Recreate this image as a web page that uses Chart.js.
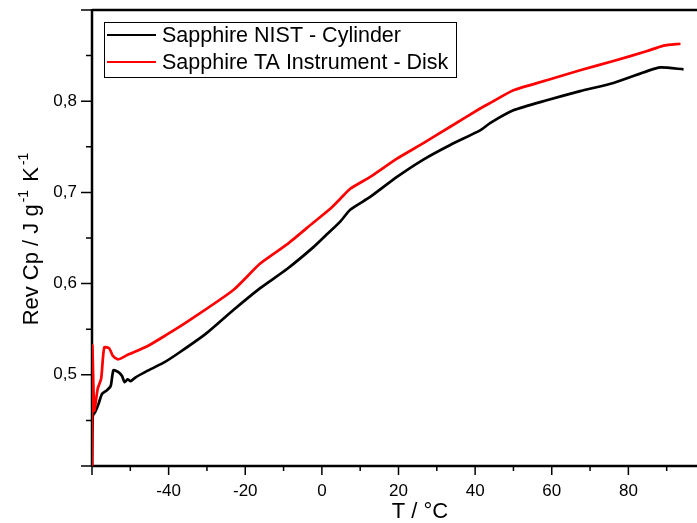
<!DOCTYPE html>
<html>
<head>
<meta charset="utf-8">
<script src="https://cdn.jsdelivr.net/npm/chart.js@4"></script>
<style>
  html, body { margin:0; padding:0; background:#fff; overflow:hidden; }
  #wrap { width:710px; height:523px; }
</style>
</head>
<body>
<div id="wrap"><canvas id="cpChart" width="710" height="523"></canvas></div>
<script>
const FONT = "'Liberation Sans', Arial, sans-serif";

// Sapphire NIST - Cylinder
const tempNist = [-60, -59.8, -59.2, -58.3, -57.4, -56.1, -55.1, -54.4, -53.1, -52.2, -51.5, -50.7, -49.9, -48.7, -45.7, -41.4, -37.0, -30, -23.1, -16.1, -9.1, -2.2, 1.3, 4.8, 7.4, 12.6, 19.6, 26.5, 33.5, 41.3, 43.9, 50.0, 58.7, 67.4, 76.1, 84.9, 88.3, 94.4];
const cpNist = [0.40, 0.455, 0.459, 0.468, 0.479, 0.483, 0.488, 0.505, 0.503, 0.499, 0.492, 0.495, 0.493, 0.497, 0.504, 0.513, 0.525, 0.546, 0.571, 0.595, 0.616, 0.640, 0.654, 0.668, 0.681, 0.695, 0.717, 0.736, 0.752, 0.768, 0.776, 0.790, 0.801, 0.811, 0.820, 0.833, 0.837, 0.835];

// Sapphire TA Instrument - Disk
const tempTa = [-60, -59.9, -59.4, -58.5, -57.6, -56.8, -55.5, -54.6, -53.3, -52.4, -51.1, -45.7, -40.5, -35.2, -23.1, -16.1, -9.1, -2.2, 2.2, 4.8, 7.4, 12.6, 19.6, 26.5, 33.5, 41.3, 43.9, 50.0, 58.7, 67.4, 76.1, 84.9, 89.2, 93.6];
const cpTa = [0.40, 0.532, 0.461, 0.485, 0.496, 0.530, 0.529, 0.521, 0.517, 0.518, 0.521, 0.531, 0.544, 0.558, 0.593, 0.622, 0.643, 0.667, 0.682, 0.693, 0.704, 0.717, 0.737, 0.754, 0.772, 0.792, 0.798, 0.812, 0.823, 0.834, 0.844, 0.855, 0.861, 0.863];

const seriesNames = ["Sapphire NIST - Cylinder", "Sapphire TA Instrument - Disk"];
const seriesColors = ["#000000", "#ff0000"];

const xRange = [-60, 100];
const yRange = [0.4, 0.9];

function pts(xs, ys){ return xs.map((x,i)=>({x:x, y:ys[i]})); }

function noPad(s){ s.paddingTop = 0; s.paddingBottom = 0; s.paddingLeft = 0; s.paddingRight = 0; }

// frame, tick marks, titles and legend
const decor = {
  id:"decor",
  beforeDatasetsDraw(chart){
    const {ctx, chartArea:a} = chart;
    ctx.save();
    ctx.strokeStyle = "#000";
    ctx.lineWidth = 2.5;
    ctx.beginPath();
    ctx.moveTo(a.left, a.top); ctx.lineTo(a.right, a.top);
    ctx.moveTo(a.left, a.top - 1); ctx.lineTo(a.left, a.bottom + 1);
    ctx.moveTo(a.left, a.bottom); ctx.lineTo(a.right, a.bottom);
    ctx.stroke();
    ctx.restore();
  },
  afterDraw(chart){
    const {ctx, chartArea:a, scales:{x, y}} = chart;
    ctx.save();
    ctx.strokeStyle = "#000";
    ctx.lineWidth = 1.5;
    ctx.beginPath();
    x.ticks.forEach(t=>{
      const px = x.getPixelForValue(t.value);
      const major = Math.round(t.value) % 20 === 0;
      ctx.moveTo(px, a.bottom); ctx.lineTo(px, a.bottom + (major ? 9 : 5));
    });
    y.ticks.forEach(t=>{
      const py = y.getPixelForValue(t.value);
      const major = Math.round(t.value*100) % 10 === 0;
      ctx.moveTo(a.left, py); ctx.lineTo(a.left - (major ? 11 : 6), py);
    });
    ctx.stroke();

    // x title
    ctx.fillStyle = "#000";
    ctx.font = "22px " + FONT;
    ctx.textAlign = "center";
    ctx.textBaseline = "middle";
    ctx.fillText("T / °C", 420, 512);

    // y title with superscripts
    const parts = [["Rev Cp / J g",0],["-1",1],[" K",0],["-1",1]];
    const big = "22px " + FONT, small = "14px " + FONT;
    const gap = 2;
    let total = 0;
    parts.forEach(p=>{ ctx.font = p[1] ? small : big; total += ctx.measureText(p[0]).width + (p[1] ? 2*gap : 0); });
    ctx.translate(30, 238);
    ctx.rotate(-Math.PI/2);
    ctx.textAlign = "left";
    ctx.textBaseline = "alphabetic";
    let cx = -total/2;
    parts.forEach(p=>{
      ctx.font = p[1] ? small : big;
      if (p[1]) cx += gap;
      ctx.fillText(p[0], cx, p[1] ? -2 : 8);
      cx += ctx.measureText(p[0]).width + (p[1] ? gap : 0);
    });
    ctx.setTransform(1,0,0,1,0,0);

    // legend box
    ctx.fillStyle = "#fff";
    ctx.fillRect(104, 22, 352, 55);
    ctx.lineWidth = 1;
    ctx.strokeStyle = "#000";
    ctx.strokeRect(104.5, 22.5, 352, 55);
    ctx.font = "21.5px " + FONT;
    ctx.textBaseline = "middle";
    ctx.textAlign = "left";
    seriesNames.forEach((n,i)=>{
      const ly = 35 + i*27;
      ctx.strokeStyle = seriesColors[i];
      ctx.lineWidth = 2;
      ctx.beginPath(); ctx.moveTo(107, ly); ctx.lineTo(156, ly); ctx.stroke();
      ctx.fillStyle = "#000";
      ctx.fillText(n, 162, ly + 1);
    });
    ctx.restore();
  }
};

new Chart(document.getElementById("cpChart"), {
  type:"line",
  data:{
    datasets:[
      { label:seriesNames[1], data:pts(tempTa, cpTa), borderColor:seriesColors[1], borderWidth:2.7, pointRadius:0, tension:0.2, order:1 },
      { label:seriesNames[0], data:pts(tempNist, cpNist), borderColor:seriesColors[0], borderWidth:2.7, pointRadius:0, tension:0.2, order:2 }
    ]
  },
  options:{
    responsive:false,
    animation:false,
    layout:{ padding:{ left:0, top:10, right:5, bottom:0 } },
    plugins:{ legend:{display:false}, tooltip:{enabled:false} },
    scales:{
      x:{
        type:"linear", min:xRange[0], max:xRange[1],
        grid:{ display:false, drawTicks:false },
        border:{ display:false },
        ticks:{
          stepSize:10, autoSkip:false, maxRotation:0, padding:15,
          color:"#000", font:{ family:FONT, size:17 },
          callback:v => (Math.round(v)%20===0 && v>xRange[0] && v<xRange[1]) ? String(v) : ""
        },
        afterFit(s){ s.height = 57; noPad(s); }
      },
      y:{
        type:"linear", min:yRange[0], max:yRange[1],
        grid:{ display:false, drawTicks:false },
        border:{ display:false },
        ticks:{
          stepSize:0.05, autoSkip:false, padding:15,
          color:"#000", font:{ family:FONT, size:17 },
          callback:v => {
            const k = Math.round(v*100);
            return (k%10===0 && k>40 && k<90) ? (k/100).toFixed(1).replace(".", ",") : "";
          }
        },
        afterFit(s){ s.width = 92; noPad(s); }
      }
    }
  },
  plugins:[decor]
});
</script>
</body>
</html>
